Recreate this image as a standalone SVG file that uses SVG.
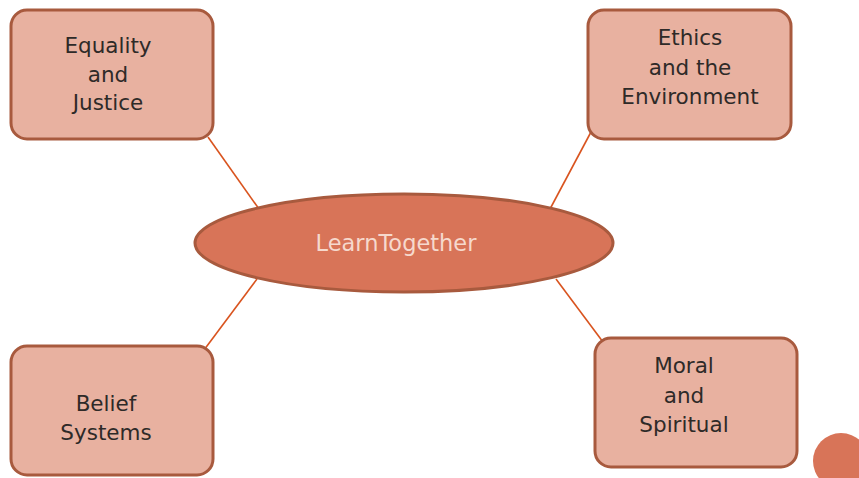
<svg xmlns="http://www.w3.org/2000/svg" width="859" height="478" viewBox="0 0 859 478">
<style>
.box{fill:#E8B1A0;stroke:#A85A3E;stroke-width:3}
.lbl{font-family:"DejaVu Sans","Liberation Sans",Arial,sans-serif;font-size:21.5px;fill:#2E2A28;text-anchor:middle}
.con{stroke:#D9541F;stroke-width:1.6;fill:none}
</style>
<rect width="859" height="478" fill="#FFFFFF"/>
<g id="connectors">
<line class="con" x1="208" y1="137" x2="259" y2="209"/>
<line class="con" x1="591" y1="132" x2="550" y2="209"/>
<line class="con" x1="204" y1="350" x2="257" y2="279"/>
<line class="con" x1="556" y1="279" x2="603" y2="342"/>
</g>
<g id="center">
<ellipse cx="404" cy="243" rx="209" ry="49" fill="#D87458" stroke="#A85A3E" stroke-width="3"/>
<text x="396" y="251" font-family="'DejaVu Sans','Liberation Sans',Arial,sans-serif" font-size="22.5" fill="#F6D9CD" text-anchor="middle">LearnTogether</text>
</g>
<g id="equality">
<rect class="box" x="11" y="10" width="202" height="129" rx="16"/>
<text class="lbl" x="108" y="53">Equality</text>
<text class="lbl" x="108" y="82">and</text>
<text class="lbl" x="108" y="110">Justice</text>
</g>
<g id="ethics">
<rect class="box" x="588" y="10" width="203" height="129" rx="16"/>
<text class="lbl" x="690" y="45">Ethics</text>
<text class="lbl" x="690" y="75">and the</text>
<text class="lbl" x="690" y="104">Environment</text>
</g>
<g id="belief">
<rect class="box" x="11" y="346" width="202" height="129" rx="16"/>
<text class="lbl" x="106" y="411">Belief</text>
<text class="lbl" x="106" y="440">Systems</text>
</g>
<g id="moral">
<rect class="box" x="595" y="338" width="202" height="129" rx="16"/>
<text class="lbl" x="684" y="373">Moral</text>
<text class="lbl" x="684" y="403">and</text>
<text class="lbl" x="684" y="432">Spiritual</text>
</g>
<circle cx="841" cy="461" r="28" fill="#D87458"/>
</svg>
